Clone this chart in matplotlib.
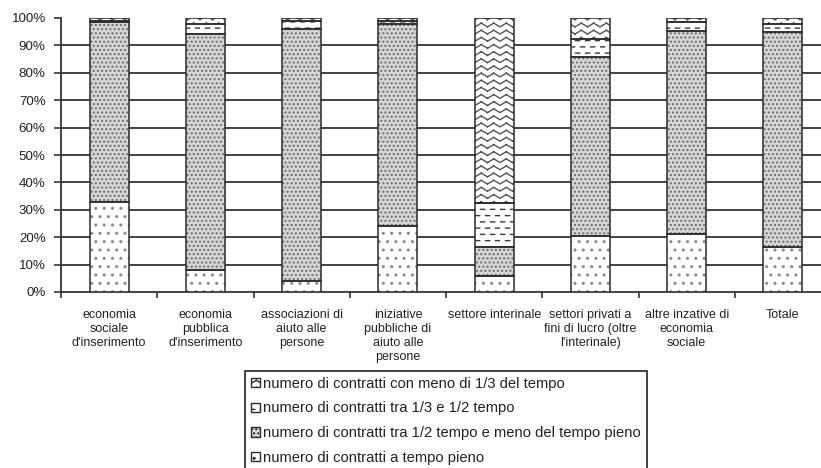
import warnings
import numpy as np
import matplotlib
matplotlib.use("Agg")
import matplotlib.pyplot as plt
from matplotlib import hatch as mhatch
from matplotlib.patches import Rectangle
from matplotlib.path import Path

warnings.filterwarnings("ignore")

# ===================== 数据 =====================
categories = [
    "economia\nsociale\nd'inserimento",
    "economia\npubblica\nd'inserimento",
    "associazioni di\naiuto alle\npersone",
    "iniziative\npubbliche di\naiuto alle\npersone",
    "settore interinale",
    "settori privati a\nfini di lucro (oltre\nl'interinale)",
    "altre inzative di\neconomia\nsociale",
    "Totale",
]
pieno = [33.0, 8.0, 4.0, 24.0, 5.8, 20.4, 21.0, 16.3]
meta_pieno = [65.5, 86.0, 92.0, 73.7, 10.7, 65.5, 74.3, 78.7]
terzo_meta = [0.5, 3.7, 3.0, 1.3, 16.1, 6.6, 3.3, 2.8]
meno_terzo = [1.0, 2.3, 1.0, 1.0, 67.4, 7.5, 1.4, 2.2]

series_labels = [
    "numero di contratti a tempo pieno",
    "numero di contratti tra 1/2 tempo e meno del tempo pieno",
    "numero di contratti tra 1/3 e 1/2 tempo",
    "numero di contratti con meno di 1/3 del tempo",
]
yticks = np.arange(0, 101, 10)


# ===================== 自定义填充纹理 =====================
class ZigZagHatch(mhatch.HatchPatternBase):
    # '~' : righe orizzontali a zig-zag (segmenti separati, niente riempimento)
    def __init__(self, hatch, density):
        n = hatch.count("~")
        self.rows = 14 * n
        self.steps = 16 * n
        self.num_vertices = self.rows * self.steps * 2

    def set_vertices_and_codes(self, vertices, codes):
        amp = 0.26 / self.rows
        k = 0
        for r in range(self.rows):
            y = (r + 0.5) / self.rows
            for s in range(self.steps):
                y0 = y - amp if s % 2 == 0 else y + amp
                y1 = y + amp if s % 2 == 0 else y - amp
                vertices[k] = (s / self.steps, y0)
                vertices[k + 1] = ((s + 1) / self.steps, y1)
                codes[k] = Path.MOVETO
                codes[k + 1] = Path.LINETO
                k += 2


class DashHatch(mhatch.HatchPatternBase):
    # '_' : trattini orizzontali sfalsati
    def __init__(self, hatch, density):
        n = hatch.count("_")
        self.rows = 16 * n
        self.cols = 10 * n
        self.num_vertices = self.rows * self.cols * 2

    def set_vertices_and_codes(self, vertices, codes):
        k = 0
        for r in range(self.rows):
            y = (r + 0.5) / self.rows
            shift = 0.5 if r % 2 else 0.0
            for c in range(self.cols):
                x0 = (c + shift + 0.05) / self.cols
                vertices[k] = (x0, y)
                vertices[k + 1] = (x0 + 0.42 / self.cols, y)
                codes[k] = Path.MOVETO
                codes[k + 1] = Path.LINETO
                k += 2


mhatch._hatch_types.extend([ZigZagHatch, DashHatch])

# ===================== 配置 =====================
plt.rcParams["font.family"] = ["Liberation Sans", "DejaVu Sans"]
plt.rcParams["hatch.linewidth"] = 1.0

fig = plt.figure(figsize=(8.21, 4.68), dpi=100)
fig.patch.set_facecolor("white")
ax = fig.add_axes([61 / 821, 176 / 468, 770 / 821, 274 / 468])

x = np.arange(len(categories))
w = 0.405
edge = "#2b2b2b"

# facecolor, hatch, colore del tratteggio
styles = [
    ("white", "..", "#8a8a8a"),
    ("#d6d6d6", "....", "#6e6e6e"),
    ("white", "_", "#3a3a3a"),
    ("white", "~", "#555555"),
]
values = [pieno, meta_pieno, terzo_meta, meno_terzo]

bottom = np.zeros(len(categories))
handles = []
for vals, (fc, ht, hc), lab in zip(values, styles, series_labels):
    # riempimento + trama (colore trama = edgecolor, bordo a spessore zero)
    ax.bar(x, vals, w, bottom=bottom, facecolor=fc, hatch=ht, edgecolor=hc,
           linewidth=0, zorder=3)
    # contorno dei segmenti
    ax.bar(x, vals, w, bottom=bottom, fill=False, edgecolor=edge,
           linewidth=1.1, zorder=4)
    handles.append(Rectangle((0, 0), 1, 1, facecolor=fc, hatch=ht,
                             edgecolor=edge, linewidth=1.0))
    bottom += np.array(vals)

# ===================== 坐标轴 =====================
ax.set_xlim(-0.5, len(categories) - 0.5)
ax.set_ylim(0, 100)
ax.set_yticks(yticks)
ax.set_yticklabels([f"{v}%" for v in yticks], fontsize=9.6, color="#222222")
for v in yticks[1:-1]:
    ax.axhline(v, color="#333333", linewidth=1.3, zorder=1)

ax.set_xticks(x)
ax.set_xticklabels(categories, fontsize=9, color="#222222", linespacing=1.2,
                   va="top")
ax.set_xticks(np.arange(len(categories) + 1) - 0.5, minor=True)
ax.tick_params(axis="x", which="major", length=0, pad=12.5)
ax.tick_params(axis="x", which="minor", length=4, width=1.2, color="#333333",
               direction="out")
ax.tick_params(axis="y", length=5, width=1.2, color="#333333", direction="out",
               pad=6)

for s in ["top", "right"]:
    ax.spines[s].set_visible(False)
for s in ["left", "bottom"]:
    ax.spines[s].set_linewidth(1.3)
    ax.spines[s].set_color("#333333")

# ===================== 图例 =====================
leg = fig.legend(handles[::-1], series_labels[::-1], loc="upper center",
                 bbox_to_anchor=(446 / 821, 1 - 371 / 468), fontsize=10.6,
                 frameon=True, fancybox=False, framealpha=1,
                 edgecolor="#222222", handlelength=0.62, handleheight=0.62,
                 handletextpad=0.22, labelspacing=0.72, borderpad=0.4,
                 borderaxespad=0)
leg.get_frame().set_linewidth(1.2)
for t in leg.get_texts():
    t.set_color("#222222")

plt.savefig("out.png", dpi=100, facecolor="white")
